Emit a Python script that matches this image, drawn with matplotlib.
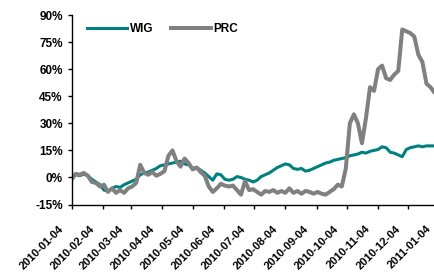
import numpy as np
import pandas as pd
import matplotlib
matplotlib.use('Agg')
import matplotlib.pyplot as plt
import matplotlib.dates as mdates
import matplotlib.transforms as mtransforms

plt.rcParams['font.family'] = ['Liberation Sans', 'DejaVu Sans']
plt.rcParams['font.weight'] = 'bold'

# sampled every 4 calendar days from 2010-01-04
dates = pd.date_range('2010-01-04', periods=93, freq='4D')

wig = [0.0, 1.5, 1.0, 1.8, 1.0, -1.0, -2.5, -4.0, -7.0, -7.5,
       -6.0, -5.0, -5.5, -4.0, -3.0, -2.0, -1.0, 1.5, 2.5, 3.0,
       4.0, 5.0, 6.5, 7.0, 7.5, 8.0, 8.5, 9.0, 7.5, 7.0,
       5.0, 5.5, 4.0, 2.5, 0.5, -1.5, 2.0, 1.5, -1.0, -1.5,
       -1.0, 0.5, 0.0, -1.0, -1.5, -2.5, -1.5, 0.5, 1.5, 2.5,
       4.0, 5.5, 6.5, 7.5, 7.0, 5.0, 4.5, 5.0, 3.5, 4.0,
       5.0, 6.0, 7.0, 8.0, 8.5, 9.5, 10.0, 10.5, 11.0, 12.0,
       12.5, 13.0, 14.0, 13.5, 14.5, 15.0, 15.5, 17.0, 16.5, 14.0,
       13.5, 12.5, 11.5, 15.5, 16.5, 17.0, 17.5, 17.0, 17.5, 17.5,
       17.5, 17.5, 17.5]

prc = [-1.0, 2.0, 1.5, 2.5, 1.0, -2.5, -3.0, -5.0, -4.0, -8.0,
       -6.0, -8.5, -7.0, -8.5, -6.0, -5.0, -3.0, 7.0, 2.5, 1.5,
       3.0, 1.0, 2.0, 3.5, 12.0, 15.0, 9.0, 6.0, 10.5, 8.0,
       4.5, 5.5, 3.0, 1.0, -5.0, -8.0, -6.0, -3.5, -4.5, -5.0,
       -4.5, -7.0, -9.5, -2.0, -7.0, -6.5, -8.0, -9.5, -7.5, -8.0,
       -7.0, -8.5, -7.5, -8.5, -6.0, -8.5, -7.5, -9.0, -7.5, -8.0,
       -9.0, -8.0, -9.0, -9.5, -8.0, -6.5, -4.0, -5.0, 5.0, 30.0,
       35.0, 30.0, 19.0, 33.0, 50.0, 48.0, 60.0, 62.0, 55.0, 54.0,
       57.0, 59.0, 82.0, 81.0, 80.0, 78.0, 68.0, 64.0, 52.0, 50.0,
       47.0, 55.0, 57.0]

yticks = [-15, 0, 15, 30, 45, 60, 75, 90]

fig = plt.figure(figsize=(4.35, 2.72), dpi=100)
ax = fig.add_axes([0.1648, 0.248, 0.8526, 0.6967])

ax.plot(dates, wig, color='#008080', lw=2.2, label='WIG', solid_joinstyle='round')
ax.plot(dates, prc, color='#808080', lw=2.9, label='PRC', solid_joinstyle='round')

ax.set_ylim(-15, 90)
ax.set_yticks(yticks)
ax.set_yticklabels(['%d%%' % v for v in yticks])
ax.set_xlim(pd.Timestamp('2010-01-04'), pd.Timestamp('2011-01-07'))
ax.xaxis.set_major_locator(mdates.MonthLocator(bymonthday=4))
ax.xaxis.set_major_formatter(mdates.DateFormatter('%Y-%m-%d'))

for s in ['top', 'right']:
    ax.spines[s].set_visible(False)
for s in ['left', 'bottom']:
    ax.spines[s].set_linewidth(1.0)

ax.tick_params(axis='y', direction='out', length=3.2, width=1, pad=3.2, labelsize=8.5)
ax.tick_params(axis='x', direction='out', length=3.2, width=1, pad=10.5, labelsize=8)

# rotated date labels sit left of their ticks
shift = mtransforms.ScaledTranslation(-9.5 / 72, 0, fig.dpi_scale_trans)
for lab in ax.get_xticklabels():
    lab.set_rotation(45)
    lab.set_ha('right')
    lab.set_va('top')
    lab.set_rotation_mode('anchor')
    lab.set_transform(lab.get_transform() + shift)

ax.legend(loc='center left', bbox_to_anchor=(87 / 435, 1 - 28.7 / 272),
          bbox_transform=fig.transFigure, ncol=2, frameon=False,
          borderpad=0, borderaxespad=0, handlelength=3.4, handletextpad=0.2,
          columnspacing=1.5, fontsize=8.5)

fig.savefig('out.png', dpi=100)
